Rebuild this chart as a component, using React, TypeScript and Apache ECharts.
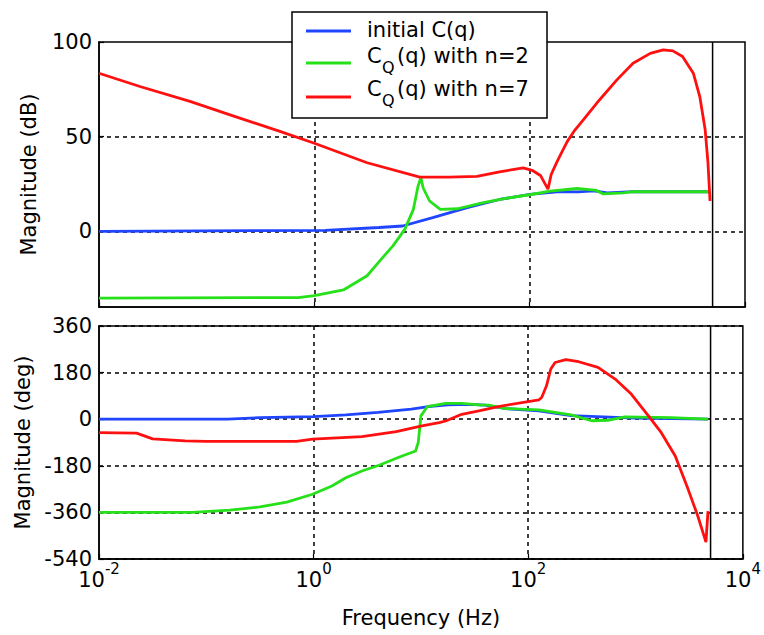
import React, { useEffect, useRef } from 'react';
import * as echarts from 'echarts';

const FONT = 'DejaVu Sans';

// Axis ticks
const decadeMin = -2; // 10^-2 Hz
const decadeMax = 4; // 10^4 Hz
const decadeStep = 2;
const magTicks = [0, 50, 100];
const magMin = -40;
const magMax = 100;
const phaseMin = -540;
const phaseMax = 360;
const phaseStep = 180;
const nyquistHz = 5000;

// Legend
const legendPlain = 'initial C(q)';
const legendMain = 'C';
const legendSub = 'Q';
const legendRest = ['(q) with n=2', '(q) with n=7'];

// Magnitude (dB) — x values are log10(frequency in Hz)
const blueMagLogHz = [-2, 0.1, 0.6, 0.82, 1.1, 1.42, 1.72, 2.0, 2.28, 2.45, 2.6, 2.72, 2.96, 3.675];
const blueMagDb = [0, 0.5, 2, 2.8, 7.2, 12.5, 16.8, 19.5, 21, 20.8, 21.4, 20.3, 20.9, 20.9];

const greenMagLogHz = [-2, -0.15, 0, 0.27, 0.49, 0.61, 0.73, 0.84, 0.92, 0.963, 0.99, 1.01, 1.07, 1.17, 1.33, 1.57, 1.79, 2.0, 2.19, 2.44, 2.53, 2.62, 2.68, 2.87, 2.96, 3.675];
const greenMagDb = [-35.3, -35, -34, -31, -23.5, -15.5, -7.7, 1, 11.6, 23.8, 28.3, 23, 16, 11.6, 11.9, 15.1, 17.5, 19.3, 21.2, 22.6, 22.1, 21.6, 19.8, 20.3, 20.9, 20.9];

const redMagLogHz = [-2, -1.62, -1.155, -0.755, -0.32, 0, 0.49, 0.98, 1.25, 1.51, 1.72, 1.94, 2.03, 2.1, 2.17, 2.2, 2.25, 2.3, 2.35, 2.42, 2.5, 2.65, 2.81, 2.96, 3.12, 3.24, 3.33, 3.42, 3.52, 3.58, 3.63, 3.656, 3.675];
const redMagDb = [83.5, 76.5, 68.6, 61, 52.8, 46.5, 36.2, 28.6, 28.6, 29, 31.4, 33.5, 32, 29.5, 22.3, 30, 36.3, 42, 47.5, 53.5, 59, 69.5, 80, 88.8, 94, 95.8, 95.3, 92.3, 83.5, 71.2, 53.7, 36.3, 16];

// Phase (deg)
const bluePhLogHz = [-2, -0.8, -0.5, 0, 0.3, 0.6, 0.91, 1.07, 1.25, 1.45, 1.6, 1.79, 2.1, 2.4, 2.7, 3.0, 3.675];
const bluePhDeg = [0, 0, 6, 10, 17, 26, 39, 49, 55, 57, 54, 41, 32, 14, 9, 4, 0];

const greenPhLogHz = [-2, -1.13, -0.78, -0.5, -0.25, -0.01, 0.17, 0.3, 0.45, 0.61, 0.8, 0.95, 0.975, 1.0, 1.06, 1.23, 1.38, 1.54, 1.63, 1.79, 2.1, 2.4, 2.59, 2.75, 2.9, 3.33, 3.675];
const greenPhDeg = [-360, -360, -351, -339, -320, -290, -258, -226, -200, -178, -146, -123, -90, 13, 49, 61, 61, 55, 54, 41, 36, 17, -6, -4, 9, 6, 0];

const redPhLogHz = [-2, -1.65, -1.5, -1.2, -1.0, -0.16, -0.01, 0.45, 0.77, 1.01, 1.17, 1.23, 1.38, 1.54, 1.72, 2.1, 2.125, 2.17, 2.21, 2.25, 2.35, 2.47, 2.65, 2.81, 2.96, 3.12, 3.24, 3.37, 3.49, 3.58, 3.656, 3.675];
const redPhDeg = [-52, -54, -76, -84, -86, -86, -77, -67, -48, -26, -13, -7, 19, 32, 49, 75, 84, 129, 194, 219, 230, 222, 200, 155, 97, 13, -52, -142, -271, -374, -475, -355];

const BLUE = '#1f45ff';
const GREEN = '#26e01a';
const RED = '#ff1010';

const pairs = (xs: number[], ys: number[]) => xs.map((x, i) => [x, ys[i]]);

const gridLine = { color: '#000', type: [4, 4] as any, width: 1.5 };
const axisLineStyle = { show: true, onZero: false, lineStyle: { color: '#000', width: 1.5 } };

function lineSeries(name: string, data: number[][], color: string, xi: number) {
  return {
    type: 'line',
    name,
    xAxisIndex: xi,
    yAxisIndex: xi,
    data,
    showSymbol: false,
    symbol: 'none',
    smooth: false,
    silent: true,
    lineStyle: { color, width: 2.8 },
    z: 3,
  };
}

export default function App() {
  const ref = useRef<HTMLDivElement>(null);
  useEffect(() => {
    if (!ref.current) return;
    const chart = echarts.init(ref.current, undefined, { renderer: 'svg' });
    const nyqX = Math.log10(nyquistHz);
    const option: any = {
      animation: false,
      backgroundColor: '#fff',
      textStyle: { fontFamily: FONT },
      grid: [
        { left: 99, top: 42, width: 646, height: 265, show: true, borderColor: '#000', borderWidth: 1.5, backgroundColor: '#fff' },
        { left: 99, top: 326, width: 646, height: 233, show: true, borderColor: '#000', borderWidth: 1.5, backgroundColor: '#fff' },
      ],
      xAxis: [0, 1].map((gi) => ({
        type: 'value',
        gridIndex: gi,
        min: decadeMin,
        max: decadeMax,
        interval: decadeStep,
        axisLine: axisLineStyle,
        axisTick: { show: true, inside: true, length: 5, lineStyle: { color: '#000', width: 1.2 } },
        splitLine: { show: true, showMinLine: false, showMaxLine: false, lineStyle: gridLine },
        axisLabel: gi === 0
          ? { show: false }
          : {
              show: true,
              margin: 2,
              color: '#000',
              formatter: (v: number) => `{b|10}{s|${v}}`,
              rich: {
                b: { fontSize: 21, fontFamily: FONT, color: '#000', padding: [8, 0, 0, 0] },
                s: { fontSize: 15, fontFamily: FONT, color: '#000', verticalAlign: 'top' },
              },
            },
        name: gi === 1 ? 'Frequency (Hz)' : '',
        nameLocation: 'middle',
        nameGap: 48,
        nameTextStyle: { fontSize: 21, fontFamily: FONT, color: '#000' },
      })),
      yAxis: [
        {
          type: 'value',
          gridIndex: 0,
          min: magMin,
          max: magMax,
          axisLine: axisLineStyle,
          axisTick: { show: true, inside: true, length: 5, customValues: magTicks, lineStyle: { color: '#000', width: 1.2 } },
          axisLabel: { customValues: magTicks, fontSize: 21, fontFamily: FONT, color: '#000', margin: 7 },
          splitLine: { show: true, showMaxLine: false, lineStyle: gridLine },
          name: 'Magnitude (dB)',
          nameLocation: 'middle',
          nameRotate: 90,
          nameGap: 60,
          nameTextStyle: { fontSize: 21, fontFamily: FONT, color: '#000' },
        },
        {
          type: 'value',
          gridIndex: 1,
          min: phaseMin,
          max: phaseMax,
          interval: phaseStep,
          axisLine: axisLineStyle,
          axisTick: { show: true, inside: true, length: 5, lineStyle: { color: '#000', width: 1.2 } },
          axisLabel: { fontSize: 21, fontFamily: FONT, color: '#000', margin: 7 },
          splitLine: { show: true, lineStyle: gridLine },
          name: 'Magnitude (deg)',
          nameLocation: 'middle',
          nameRotate: 90,
          nameGap: 66,
          nameTextStyle: { fontSize: 21, fontFamily: FONT, color: '#000' },
        },
      ],
      series: [
        lineSeries('initial C(q)', pairs(blueMagLogHz, blueMagDb), BLUE, 0),
        lineSeries('CQ(q) with n=2', pairs(greenMagLogHz, greenMagDb), GREEN, 0),
        lineSeries('CQ(q) with n=7', pairs(redMagLogHz, redMagDb), RED, 0),
        lineSeries('initial C(q) phase', pairs(bluePhLogHz, bluePhDeg), BLUE, 1),
        lineSeries('CQ(q) with n=2 phase', pairs(greenPhLogHz, greenPhDeg), GREEN, 1),
        lineSeries('CQ(q) with n=7 phase', pairs(redPhLogHz, redPhDeg), RED, 1),
        {
          type: 'line', xAxisIndex: 0, yAxisIndex: 0, silent: true, symbol: 'none',
          data: [[nyqX, magMin], [nyqX, magMax]], lineStyle: { color: '#000', width: 1.5 }, z: 4,
        },
        {
          type: 'line', xAxisIndex: 1, yAxisIndex: 1, silent: true, symbol: 'none',
          data: [[nyqX, phaseMin], [nyqX, phaseMax]], lineStyle: { color: '#000', width: 1.5 }, z: 4,
        },
      ],
      graphic: [
        { type: 'rect', z: 100, shape: { x: 292, y: 12, width: 255, height: 106 }, style: { fill: '#fff', stroke: '#000', lineWidth: 1.5 } },
        { type: 'line', z: 101, shape: { x1: 306, y1: 31, x2: 351, y2: 31 }, style: { stroke: BLUE, lineWidth: 3 } },
        { type: 'line', z: 101, shape: { x1: 306, y1: 63, x2: 351, y2: 63 }, style: { stroke: GREEN, lineWidth: 3 } },
        { type: 'line', z: 101, shape: { x1: 306, y1: 97, x2: 351, y2: 97 }, style: { stroke: RED, lineWidth: 3 } },
        { type: 'text', z: 101, x: 367, y: 30, style: { text: legendPlain, fontSize: 21, fontFamily: FONT, fill: '#000', verticalAlign: 'middle' } },
        { type: 'text', z: 101, x: 367, y: 56, style: { text: legendMain, fontSize: 21, fontFamily: FONT, fill: '#000', verticalAlign: 'middle' } },
        { type: 'text', z: 101, x: 382, y: 67, style: { text: legendSub, fontSize: 16, fontFamily: FONT, fill: '#000', verticalAlign: 'middle' } },
        { type: 'text', z: 101, x: 397, y: 56, style: { text: legendRest[0], fontSize: 21, fontFamily: FONT, fill: '#000', verticalAlign: 'middle' } },
        { type: 'text', z: 101, x: 367, y: 89, style: { text: legendMain, fontSize: 21, fontFamily: FONT, fill: '#000', verticalAlign: 'middle' } },
        { type: 'text', z: 101, x: 382, y: 100, style: { text: legendSub, fontSize: 16, fontFamily: FONT, fill: '#000', verticalAlign: 'middle' } },
        { type: 'text', z: 101, x: 397, y: 89, style: { text: legendRest[1], fontSize: 21, fontFamily: FONT, fill: '#000', verticalAlign: 'middle' } },
      ],
    };
    chart.setOption(option);
    return () => chart.dispose();
  }, []);
  return (
    <div
      ref={ref}
      style={{ position: 'absolute', left: 0, top: 0, width: 764, height: 635, background: '#fff' }}
    />
  );
}
